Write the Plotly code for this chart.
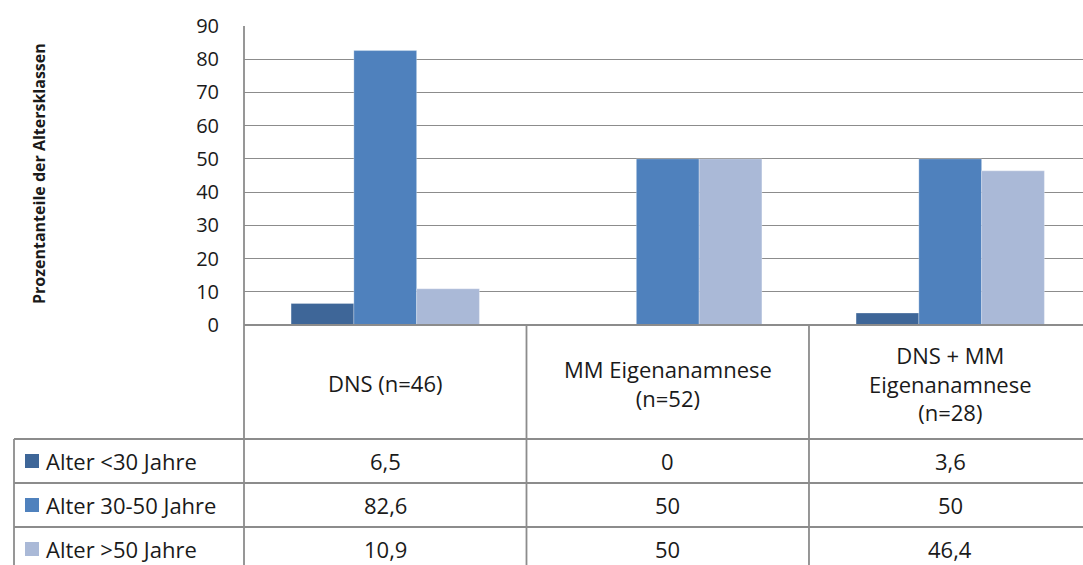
import plotly.graph_objects as go

# --- data -------------------------------------------------------------
categories = ["DNS (n=46)", "MM Eigenanamnese<br>(n=52)", "DNS + MM<br>Eigenanamnese<br>(n=28)"]
series_names = ["Alter <30 Jahre", "Alter 30-50 Jahre", "Alter >50 Jahre"]
alter_unter_30 = [6.5, 0, 3.6]
alter_30_50 = [82.6, 50, 50]
alter_ueber_50 = [10.9, 50, 46.4]
y_ticks = [0, 10, 20, 30, 40, 50, 60, 70, 80, 90]
value_labels = [
    ["6,5", "0", "3,6"],
    ["82,6", "50", "50"],
    ["10,9", "50", "46,4"],
]
y_title = "Prozentanteile der Altersklassen"

series_values = [alter_unter_30, alter_30_50, alter_ueber_50]
colors = ["#3E6698", "#4F81BD", "#AAB9D7"]

# --- figure geometry (pixels) -----------------------------------------
W, H = 1083, 565
L, T, PB = 244, 26, 325          # plot left, top, bottom
PW, PH = W - L, PB - T
x_range = [-0.5, 2.47]

FONT = "Open Sans"
GRID = "#8c8c8c"
TXT = "#1a1a1a"
TABLE_SIZE = 22


def xp(px):
    return (px - L) / PW


def yp(py):
    return (PB - py) / PH


def xcat(c):
    return (c - x_range[0]) / (x_range[1] - x_range[0])


fig = go.Figure()
idx = list(range(len(categories)))
for name, vals, col in zip(series_names, series_values, colors):
    fig.add_trace(go.Bar(
        x=idx, y=vals, name=name,
        marker=dict(color=col, line=dict(color="rgba(255,255,255,0.35)", width=0.8)),
        showlegend=False,
    ))

shapes = []
annotations = []
line_style = dict(color=GRID, width=1.8)

# table geometry
head_bottom = 439
row_h = 44
row_tops = [head_bottom + i * row_h for i in range(len(series_names) + 1)]
table_left = 14

# left border of the plot runs down through the table
shapes.append(dict(type="line", xref="paper", yref="paper",
                   x0=0, x1=0, y0=1, y1=yp(H + 10), line=line_style))
# column separators (category boundaries) inside the table
for b in [0.5, 1.5]:
    shapes.append(dict(type="line", xref="paper", yref="paper",
                       x0=xcat(b), x1=xcat(b), y0=0, y1=yp(H + 10), line=line_style))
# left edge of legend column
shapes.append(dict(type="line", xref="paper", yref="paper",
                   x0=xp(table_left), x1=xp(table_left), y0=yp(head_bottom), y1=yp(H + 10),
                   line=line_style))
# horizontal row lines
for rt in row_tops:
    shapes.append(dict(type="line", xref="paper", yref="paper",
                       x0=xp(table_left), x1=1.01, y0=yp(rt), y1=yp(rt), line=line_style))
# baseline under the bars
shapes.append(dict(type="line", xref="paper", yref="paper",
                   x0=0, x1=1.01, y0=0, y1=0, line=line_style))

# category headers
for c, lab in enumerate(categories):
    annotations.append(dict(xref="paper", yref="paper", x=xcat(c), y=yp((PB + head_bottom) / 2 + 1),
                            text=lab, showarrow=False, xanchor="center", yanchor="middle",
                            font=dict(family=FONT, size=TABLE_SIZE, color=TXT)))

# legend keys, series names and values
for r, (name, col) in enumerate(zip(series_names, colors)):
    cy = row_tops[r] + row_h / 2
    shapes.append(dict(type="rect", xref="paper", yref="paper",
                       x0=xp(25), x1=xp(39), y0=yp(cy - 7), y1=yp(cy + 7),
                       fillcolor=col, line=dict(width=0)))
    annotations.append(dict(xref="paper", yref="paper", x=xp(44), y=yp(cy),
                            text=name, showarrow=False, xanchor="left", yanchor="middle",
                            font=dict(family=FONT, size=TABLE_SIZE, color=TXT)))
    for c in idx:
        annotations.append(dict(xref="paper", yref="paper", x=xcat(c), y=yp(cy),
                                text=value_labels[r][c], showarrow=False,
                                xanchor="center", yanchor="middle",
                                font=dict(family=FONT, size=TABLE_SIZE, color=TXT)))

# y axis title
annotations.append(dict(xref="paper", yref="paper", x=xp(39), y=yp(174),
                        text="<b>" + y_title + "</b>", textangle=-90, showarrow=False,
                        xanchor="center", yanchor="middle",
                        font=dict(family=FONT, size=16, color=TXT)))

fig.update_layout(
    width=W, height=H,
    margin=dict(l=L, r=0, t=T, b=H - PB, pad=0),
    paper_bgcolor="white", plot_bgcolor="white",
    barmode="group", bargap=1 / 3, bargroupgap=0,
    shapes=shapes, annotations=annotations,
    font=dict(family=FONT, color=TXT),
    xaxis=dict(range=x_range, showticklabels=False, showgrid=False, zeroline=False,
               showline=False, ticks=""),
    yaxis=dict(range=[0, 90], tickvals=y_ticks, showgrid=True, gridcolor=GRID, gridwidth=1.3,
               zeroline=False, showline=False, ticks="", ticklabelstandoff=24,
               tickfont=dict(family=FONT, size=20, color=TXT)),
)

fig.write_html("out.html")
